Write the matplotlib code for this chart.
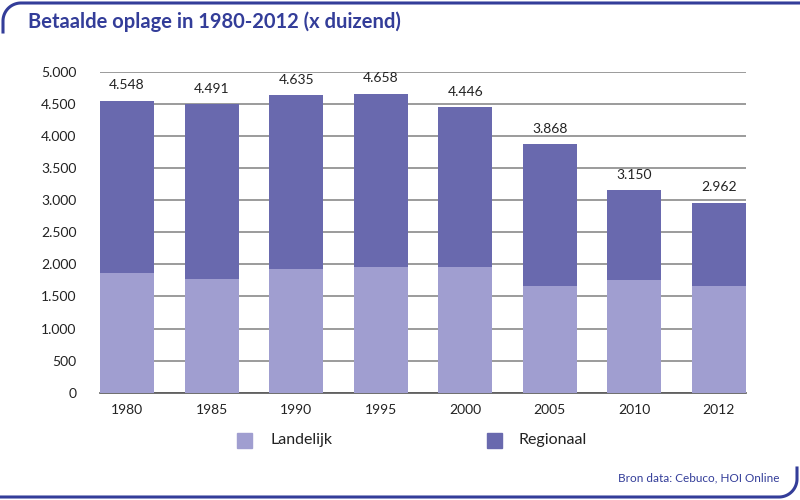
import numpy as np
import matplotlib.pyplot as plt
from matplotlib.lines import Line2D
from matplotlib.patches import Rectangle

plt.rcParams['font.family'] = ['Lato', 'DejaVu Sans']

jaren = ['1980', '1985', '1990', '1995', '2000', '2005', '2010', '2012']
totaal = [4548, 4491, 4635, 4658, 4446, 3868, 3150, 2962]
landelijk = [1870, 1775, 1920, 1965, 1965, 1655, 1750, 1660]
regionaal = [t - l for t, l in zip(totaal, landelijk)]

licht = '#a09ed0'
donker = '#6969ae'
blauw = '#333d99'

fig = plt.figure(figsize=(8, 5), dpi=100)
ax = fig.add_axes([0.125, 0.2146, 0.8075, 0.642])

x = np.arange(len(jaren))
ax.bar(x, landelijk, width=0.64, color=licht, zorder=3)
ax.bar(x, regionaal, width=0.64, bottom=landelijk, color=donker, zorder=3)

for xi, t in zip(x, totaal):
    ax.text(xi, t + 150, f'{t:,}'.replace(',', '.'), ha='center', va='bottom',
            fontsize=10, color='#222222')

ax.set_xlim(-0.32, len(jaren) - 1 + 0.32)
ax.set_ylim(0, 5000)
ticks = np.arange(0, 5001, 500)
ax.set_yticks(ticks)
ax.set_yticklabels([f'{v:,}'.replace(',', '.') for v in ticks], fontsize=10)
ax.set_xticks(x)
ax.set_xticklabels(jaren, fontsize=10)
ax.tick_params(axis='both', length=0, colors='#222222')
ax.tick_params(axis='y', pad=17)
ax.tick_params(axis='x', pad=8)
ax.yaxis.grid(True, color='#8a8a8a', linewidth=1.2, zorder=0)
ax.set_axisbelow(True)
for s in ['top', 'right', 'left']:
    ax.spines[s].set_visible(False)
ax.spines['bottom'].set_color('#555555')
ax.spines['bottom'].set_linewidth(1.2)

W, H = 800, 500
def fx(px):
    return px / W
def fy(py):
    return 1 - py / H

# rounded frame top-left
r = 18
ang = np.linspace(np.pi, np.pi / 2, 30)
cx, cy = 3 + r, 3 + r
xs = [3] + list(cx + r * np.cos(ang)) + [W]
ys = [32] + list(cy - r * np.sin(ang)) + [3]
fig.add_artist(Line2D([fx(v) for v in xs], [fy(v) for v in ys], color=blauw,
                      linewidth=2.2, transform=fig.transFigure))
# rounded frame bottom-right
ang = np.linspace(0, -np.pi / 2, 30)
cx, cy = W - 3 - r, H - 3 - r
xs = [W - 3] + list(cx + r * np.cos(ang)) + [0]
ys = [H - 32] + list(cy - r * np.sin(ang)) + [H - 3]
fig.add_artist(Line2D([fx(v) for v in xs], [fy(v) for v in ys], color=blauw,
                      linewidth=2.2, transform=fig.transFigure))

fig.text(fx(28), fy(22), 'Betaalde oplage in 1980-2012 (x duizend)', fontsize=14.5,
         fontweight='bold', color=blauw, ha='left', va='center')
fig.text(fx(780), fy(478), 'Bron data: Cebuco, HOI Online', fontsize=8.5,
         color=blauw, ha='right', va='center')

# legend
for lx, tx, kleur, naam in [(237, 270, licht, 'Landelijk'), (487, 519, donker, 'Regionaal')]:
    fig.add_artist(Rectangle((fx(lx), fy(448)), 15 / W, 15 / H, color=kleur,
                             transform=fig.transFigure))
    fig.text(fx(tx), fy(440), naam, fontsize=11.5, color='#222222', ha='left', va='center')

fig.savefig('out.png', dpi=100)
